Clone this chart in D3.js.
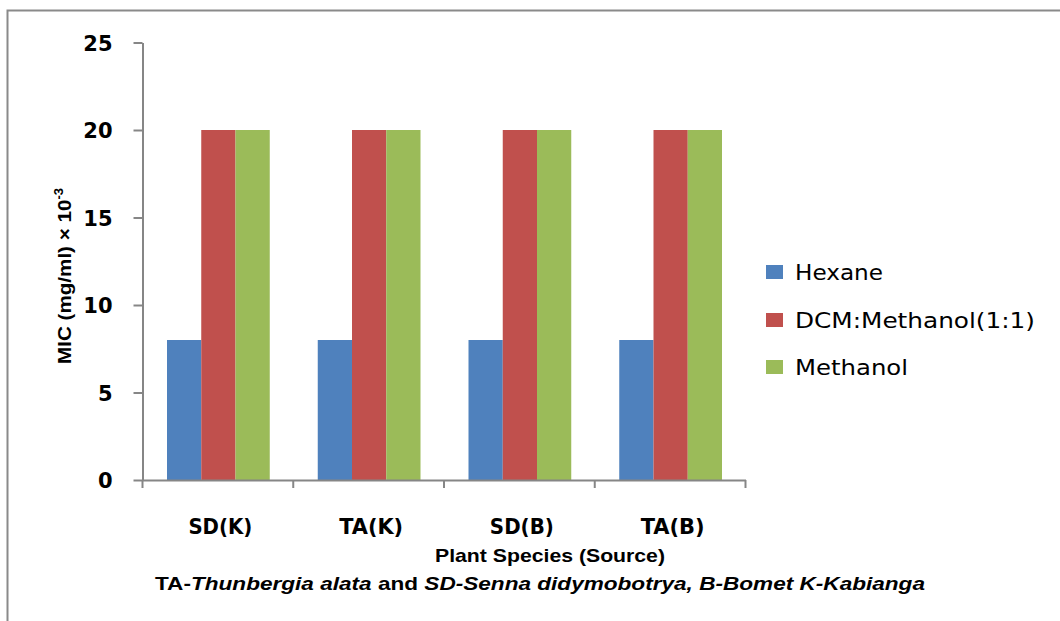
<!DOCTYPE html>
<html>
<head>
<meta charset="utf-8">
<script src="https://cdn.jsdelivr.net/npm/d3@7"></script>
<style>
  html, body { margin: 0; padding: 0; background: #fff; }
  svg { display: block; }
</style>
</head>
<body>
<svg id="chart" width="1060" height="621"></svg>
<script>
const categories = ["SD(K)", "TA(K)", "SD(B)", "TA(B)"];
const seriesNames = ["Hexane", "DCM:Methanol(1:1)", "Methanol"];
const hexane = [8, 8, 8, 8];
const dcmMethanol = [20, 20, 20, 20];
const methanol = [20, 20, 20, 20];
const yTicks = [0, 5, 10, 15, 20, 25];
const colors = ["#4F81BD", "#C0504D", "#9BBB59"];

const seriesValues = [hexane, dcmMethanol, methanol];

const svg = d3.select("#chart");
const axisColor = "#868686";

// outer frame
svg.append("rect")
  .attr("x", 7.5).attr("y", 10.5)
  .attr("width", 1200).attr("height", 800)
  .attr("fill", "none").attr("stroke", "#8a8a8a").attr("stroke-width", 2);

const plotL = 142, plotR = 745, plotT = 42.5, plotB = 480;

const y = d3.scaleLinear().domain([0, 25]).range([plotB, plotT]);
const x = d3.scaleBand().domain(categories).range([plotL, plotR]).padding(0);
const gap = 25;
const xs = d3.scaleBand().domain(seriesNames).range([gap, x.bandwidth() - gap + 2]).padding(0);

// bars
const g = svg.append("g");
categories.forEach((c, i) => {
  seriesNames.forEach((s, j) => {
    const v = seriesValues[j][i];
    g.append("rect")
      .attr("x", x(c) + xs(s))
      .attr("y", y(v))
      .attr("width", xs.bandwidth())
      .attr("height", y(0) - y(v))
      .attr("fill", colors[j]);
  });
});

// y axis
const yAxis = d3.axisLeft(y).tickValues(yTicks).tickSize(9).tickPadding(21).tickSizeOuter(0);
const ya = svg.append("g").attr("transform", `translate(${plotL + 0.5},0)`).call(yAxis);
ya.select(".domain").attr("stroke", axisColor).attr("stroke-width", 2);
ya.selectAll(".tick line").attr("stroke", axisColor).attr("stroke-width", 2);
ya.selectAll(".tick text")
  .attr("font-family", "DejaVu Sans").attr("font-weight", "bold").attr("font-size", 21)
  .attr("fill", "#000").attr("dy", "0.36em");

// x axis line & ticks at band edges
const xa = svg.append("g");
xa.append("line").attr("x1", plotL).attr("x2", plotR + 1).attr("y1", plotB + 0.5).attr("y2", plotB + 0.5)
  .attr("stroke", axisColor).attr("stroke-width", 2);
const edges = categories.map(c => x(c)).concat([x.range()[1]]);
xa.selectAll("line.t").data(edges).enter().append("line")
  .attr("x1", d => d + 0.5).attr("x2", d => d + 0.5)
  .attr("y1", plotB).attr("y2", plotB + 8)
  .attr("stroke", axisColor).attr("stroke-width", 2);

// category labels
const xLab = d3.axisBottom(x).tickSize(0).tickPadding(0);
const xl = svg.append("g").attr("transform", `translate(3,${plotB + 54})`).call(xLab);
xl.select(".domain").remove();
xl.selectAll(".tick text")
  .attr("font-family", "DejaVu Sans").attr("font-weight", "bold").attr("font-size", 21)
  .attr("fill", "#000").attr("dy", 0).attr("y", 0)
  .attr("textLength", 64).attr("lengthAdjust", "spacingAndGlyphs");

// y title
svg.append("text")
  .attr("transform", "translate(71,364) rotate(-90)")
  .attr("font-family", "Liberation Sans").attr("font-weight", "bold").attr("font-size", 19)
  .attr("textLength", 176).attr("lengthAdjust", "spacingAndGlyphs")
  .call(t => {
    t.append("tspan").text("MIC (mg/ml) × 10");
    t.append("tspan").attr("font-size", 12).attr("dy", -8).text("-3");
  });

// x title
svg.append("text")
  .attr("x", 435).attr("y", 562)
  .attr("font-family", "Liberation Sans").attr("font-weight", "bold").attr("font-size", 19)
  .attr("textLength", 230).attr("lengthAdjust", "spacingAndGlyphs")
  .text("Plant Species (Source)");

// caption
const cap = svg.append("text")
  .attr("x", 155).attr("y", 590)
  .attr("font-family", "Liberation Sans").attr("font-weight", "bold").attr("font-size", 19)
  .attr("textLength", 770).attr("lengthAdjust", "spacingAndGlyphs");
[["TA-", false], ["Thunbergia alata", true], [" and ", false], ["SD-Senna didymobotrya,  B-Bomet K-Kabianga", true]]
  .forEach(([txt, it]) => cap.append("tspan").attr("font-style", it ? "italic" : "normal").text(txt));

// legend
const legendY = [272, 320, 367];
const legendW = [88, 240, 113];
seriesNames.forEach((s, i) => {
  svg.append("rect").attr("x", 766).attr("y", legendY[i] - 7).attr("width", 17).attr("height", 14).attr("fill", colors[i]);
  svg.append("text").attr("x", 795).attr("y", legendY[i] + 8)
    .attr("font-family", "DejaVu Sans").attr("font-size", 21).attr("fill", "#000")
    .attr("textLength", legendW[i]).attr("lengthAdjust", "spacingAndGlyphs")
    .text(s);
});
</script>
</body>
</html>
